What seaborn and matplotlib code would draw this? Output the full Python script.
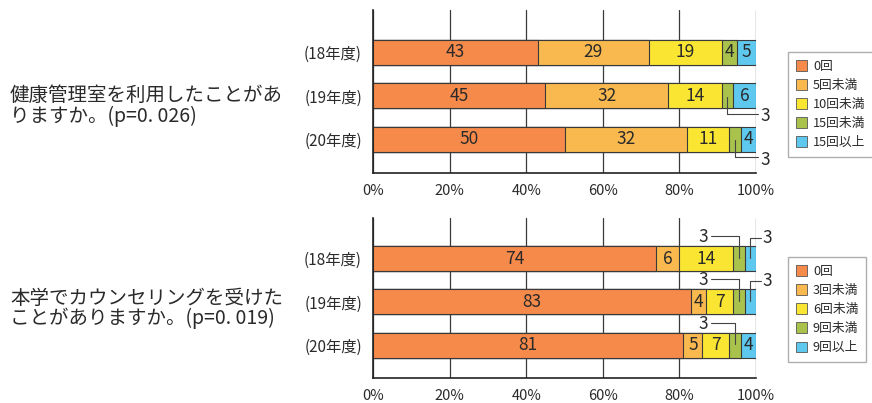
import numpy as np
import pandas as pd
import matplotlib
matplotlib.use("Agg")
import matplotlib.pyplot as plt
import seaborn as sns
from matplotlib.patches import Patch

# ---- data -------------------------------------------------------------
years = ["(18年度)", "(19年度)", "(20年度)"]

usage_labels = ["0回", "5回未満", "10回未満", "15回未満", "15回以上"]
usage_18 = [43, 29, 19, 4, 5]
usage_19 = [45, 32, 14, 3, 6]
usage_20 = [50, 32, 11, 3, 4]

counsel_labels = ["0回", "3回未満", "6回未満", "9回未満", "9回以上"]
counsel_18 = [74, 6, 14, 3, 3]
counsel_19 = [83, 4, 7, 3, 3]
counsel_20 = [81, 5, 7, 3, 4]

question_usage = ["健康管理室を利用したことがあ", "りますか。(p=0. 026)"]
question_counsel = ["本学でカウンセリングを受けた", "ことがありますか。(p=0. 019)"]

x_ticks = [0, 20, 40, 60, 80, 100]
x_tick_labels = ["0%", "20%", "40%", "60%", "80%", "100%"]

colors = ["#F58A4A", "#F9B94E", "#FAE632", "#A9C24C", "#5EC8EE"]

# ---- style ------------------------------------------------------------
sns.set_style("white")
plt.rcParams["font.family"] = ["Noto Sans CJK JP", "DejaVu Sans"]
TEXT = "#2a2a2a"

fig = plt.figure(figsize=(8.72, 4.03), dpi=100)
ax_top = fig.add_axes([0.4278, 0.5707, 0.4392, 0.4045])
ax_bot = fig.add_axes([0.4278, 0.0620, 0.4392, 0.3970])


def stacked(ax, rows, labels, style, ylim):
    df = pd.DataFrame(rows, columns=labels)
    cum = df.cumsum(axis=1)
    cum["year"] = years
    # widest cumulative bar first so each shorter one sits on top
    for i in reversed(range(len(labels))):
        sns.barplot(data=cum, x=labels[i], y="year", orient="h",
                    color=colors[i], saturation=1, width=0.575,
                    edgecolor="#3a3a3a", linewidth=0.8, errorbar=None, ax=ax)

    for r, vals in enumerate(rows):
        c = np.cumsum(vals)
        for i, v in enumerate(vals):
            mid = c[i] - v / 2
            if v > 3:
                ax.text(mid, r, str(v), ha="center", va="center",
                        fontsize=12.5, color=TEXT)
            elif style == "below":
                ax.plot([mid, mid, 100.6], [r + 0.02, r + 0.42, r + 0.42],
                        color="#444", lw=0.8, clip_on=False)
                ax.text(101.2, r + 0.47, str(v), ha="left", va="center",
                        fontsize=12.5, color=TEXT, clip_on=False)
            elif i == len(vals) - 1:
                ax.plot([mid, mid, 101.4], [r - 0.02, r - 0.48, r - 0.48],
                        color="#444", lw=0.8, clip_on=False)
                ax.text(101.6, r - 0.48, str(v), ha="left", va="center",
                        fontsize=12.5, color=TEXT, clip_on=False)
            else:
                ax.plot([88.3, mid, mid], [r - 0.52, r - 0.52, r - 0.02],
                        color="#444", lw=0.8, clip_on=False)
                ax.text(86.2, r - 0.5, str(v), ha="center", va="center",
                        fontsize=12.5, color=TEXT, clip_on=False)

    ax.set_xlim(0, 100)
    ax.set_ylim(*ylim)
    ax.set_xticks(x_ticks)
    ax.set_xticklabels(x_tick_labels, fontsize=10.5, color=TEXT)
    ax.set_yticks(range(len(years)))
    ax.set_yticklabels(years, fontsize=11, color=TEXT)
    ax.set_xlabel("")
    ax.set_ylabel("")
    ax.tick_params(axis="x", length=0, pad=8)
    ax.tick_params(axis="y", length=0, pad=8)
    ax.xaxis.grid(True, color="#3a3a3a", lw=0.9)
    ax.yaxis.grid(False)
    ax.set_axisbelow(True)
    for s in ("top", "right"):
        ax.spines[s].set_visible(False)
    for s in ("left", "bottom"):
        ax.spines[s].set_color("#222")
        ax.spines[s].set_linewidth(1.2)


stacked(ax_top, [usage_18, usage_19, usage_20], usage_labels, "below",
        (2.78, -0.98))
stacked(ax_bot, [counsel_18, counsel_19, counsel_20], counsel_labels, "above",
        (2.76, -0.94))


def legend(labels, y):
    handles = [Patch(facecolor=c, edgecolor="#555", lw=0.6) for c in colors]
    leg = fig.legend(handles, labels, loc="upper left",
                     bbox_to_anchor=(0.9037, y), fontsize=9.2,
                     handlelength=0.9, handleheight=0.9, handletextpad=0.45,
                     labelspacing=0.48, borderpad=0.6, fancybox=False,
                     frameon=True, borderaxespad=0)
    fr = leg.get_frame()
    fr.set_edgecolor("#9a9a9a")
    fr.set_linewidth(1.0)
    for t in leg.get_texts():
        t.set_color(TEXT)


legend(usage_labels, 0.871)
legend(counsel_labels, 0.362)

for lines, y1, y2 in ((question_usage, 95.5, 116.5),
                      (question_counsel, 298, 318.5)):
    fig.text(10 / 872, 1 - y1 / 403, lines[0], ha="left", va="center",
             fontsize=14, color=TEXT)
    fig.text(10 / 872, 1 - y2 / 403, lines[1], ha="left", va="center",
             fontsize=14, color=TEXT)

fig.savefig("out.png", dpi=100, facecolor="white")
